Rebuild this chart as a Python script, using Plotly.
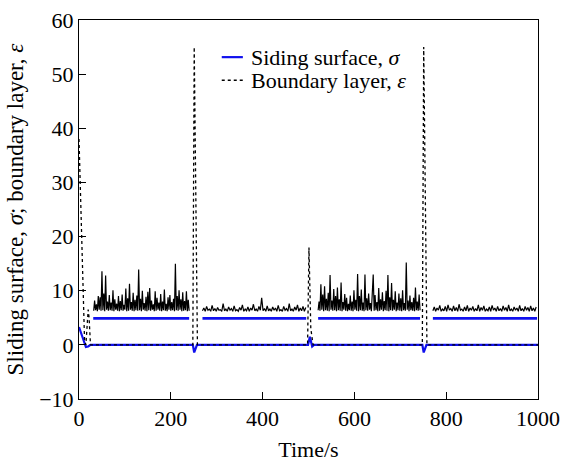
import numpy as np
import plotly.graph_objects as go

# ---- data ----
# sliding surface sigma, main (near-zero) trajectory
sig_t = [0, 6, 12, 15, 20, 25, 248, 251, 257, 499, 503, 508, 512, 748, 751, 757, 1000]
sig_v = [3.3, 1.8, 0, -0.4, -0.3, 0, 0, -1.4, 0, 0, 1.5, -0.3, 0, 0, -1.4, 0, 0]

# sliding surface sigma, upper level segments
sig_band_t = [31, 240, None, 269, 495, None, 521, 743, None, 771, 998]
sig_band_v = [4.9, 4.9, None, 4.9, 4.9, None, 4.9, 4.9, None, 4.9, 4.9]

# boundary layer epsilon, main (near-zero) trajectory with spikes
eps_t = [0, 4, 8, 12, 15, 18, 20, 22, 25, 248, 251, 258, 262, 498, 501, 505, 510, 748, 751, 758, 762, 1000]
eps_v = [38, 25, 12, 1, 0, 5, 6.5, 5, 0, 0, 55, 0, 0, 0, 18, 3, 0, 0, 55, 0, 0, 0]

# boundary layer epsilon, noisy upper-level segments
eps1_start, eps1_step = 32, 2
eps1_v = [6.3, 8.2, 6.4, 7.5, 6.2, 9.0, 6.5, 8.8, 6.3, 13.6,
          6.4, 9.5, 6.2, 12.8, 6.5, 8.0, 6.3, 9.2, 6.4, 7.8,
          6.3, 10.1, 6.2, 8.4, 6.5, 7.6, 6.3, 9.0, 6.2, 8.1,
          6.4, 9.3, 6.3, 7.4, 6.5, 10.4, 6.2, 8.6, 6.3, 11.3,
          6.5, 7.9, 6.3, 9.6, 6.2, 8.3, 6.4, 9.1, 6.3, 13.9,
          6.4, 8.5, 6.2, 10.0, 6.5, 7.7, 6.3, 8.9, 6.2, 9.8,
          6.4, 10.5, 6.3, 8.2, 6.5, 7.5, 6.2, 9.9, 6.3, 8.7,
          6.5, 7.8, 6.3, 9.4, 6.2, 8.0, 6.4, 10.2, 6.3, 7.6,
          6.2, 8.8, 6.5, 9.2, 6.3, 7.9, 6.4, 8.5, 6.2, 15.0,
          6.4, 9.0, 6.3, 10.1, 6.5, 8.4, 6.2, 9.7, 6.3, 8.1,
          6.4, 9.9, 6.2, 8.3, 6.3]

eps2_start, eps2_step = 269, 3
eps2_v = [6.3, 6.8, 6.2, 7.1, 6.4, 6.6, 6.2, 7.3, 6.3, 6.7,
          6.2, 6.9, 6.4, 6.5, 6.2, 7.6, 6.3, 6.6, 6.2, 7.0,
          6.4, 6.7, 6.2, 7.2, 6.3, 6.5, 6.2, 6.9, 6.4, 7.4,
          6.2, 6.6, 6.3, 7.0, 6.2, 6.8, 6.4, 7.5, 6.3, 6.6,
          6.2, 7.1, 6.4, 8.7, 6.3, 6.7, 6.2, 7.2, 6.3, 6.6,
          6.2, 7.0, 6.4, 6.8, 6.2, 7.3, 6.3, 6.5, 6.2, 7.1,
          6.4, 6.7, 6.2, 7.6, 6.3, 6.6, 6.2, 7.0, 6.4, 7.4,
          6.2, 6.8, 6.3, 7.1, 6.2, 6.9]

eps3_start, eps3_step = 521, 2
eps3_v = [6.4, 8.0, 6.3, 11.2, 6.5, 9.3, 6.2, 10.8, 6.4, 8.5,
          6.3, 9.6, 6.2, 12.9, 6.5, 8.2, 6.3, 10.3, 6.4, 9.0,
          6.2, 10.6, 6.4, 8.4, 6.3, 11.5, 6.2, 7.9, 6.5, 9.4,
          6.3, 8.7, 6.2, 7.6, 6.4, 9.1, 6.3, 8.0, 6.2, 10.1,
          6.5, 8.3, 6.3, 13.1, 6.2, 9.0, 6.4, 10.2, 6.3, 7.8,
          6.2, 13.0, 6.4, 8.6, 6.3, 9.5, 6.5, 7.7, 6.2, 8.9,
          13.0, 6.3, 9.2, 6.4, 7.9, 6.2, 10.5, 6.3, 8.4, 6.5,
          9.7, 6.2, 8.1, 6.4, 10.0, 6.3, 12.9, 6.2, 8.8, 6.4,
          11.4, 6.3, 8.3, 6.5, 9.9, 6.2, 7.8, 6.4, 9.5, 6.3,
          8.6, 6.2, 10.1, 6.4, 7.7, 6.3, 15.2, 6.5, 8.2, 6.2,
          9.1, 6.4, 7.9, 6.3, 8.7, 6.2, 10.6, 6.4, 8.0, 6.3,
          9.3, 6.4]

eps4_start, eps4_step = 771, 3
eps4_v = [6.3, 7.0, 6.2, 6.8, 6.4, 7.3, 6.2, 6.6, 6.3, 7.1,
          6.2, 7.4, 6.4, 6.7, 6.2, 7.2, 6.3, 6.9, 6.2, 7.5,
          6.4, 6.6, 6.2, 7.0, 6.3, 7.3, 6.2, 6.8, 6.4, 7.1,
          6.2, 6.7, 6.3, 7.4, 6.2, 6.9, 6.4, 7.2, 6.2, 6.6,
          6.3, 7.0, 6.2, 7.3, 6.4, 6.8, 6.2, 7.1, 6.3, 6.7,
          6.2, 7.2, 6.4, 6.9, 6.2, 7.4, 6.3, 6.6, 6.2, 7.0,
          6.4, 6.8, 6.2, 7.3, 6.3, 6.7, 6.2, 7.1, 6.4, 6.9,
          6.2, 7.2, 6.3, 6.8, 6.2, 7.0]

x_ticks = [0, 200, 400, 600, 800, 1000]
y_ticks = [-10, 0, 10, 20, 30, 40, 50, 60]
legend_labels = ["Siding surface, <i>σ</i>", "Boundary layer, <i>ε</i>"]

FONT = "Liberation Serif"
BLUE = "#1010ee"

fig = go.Figure()

fig.add_trace(go.Scatter(x=sig_t, y=sig_v, mode="lines", name=legend_labels[0], showlegend=False,
                         line=dict(color=BLUE, width=2.2)))
fig.add_trace(go.Scatter(x=sig_band_t, y=sig_band_v, mode="lines", showlegend=False,
                         line=dict(color=BLUE, width=2.6), connectgaps=False))

for start, step, vals in [(eps1_start, eps1_step, eps1_v), (eps2_start, eps2_step, eps2_v),
                          (eps3_start, eps3_step, eps3_v), (eps4_start, eps4_step, eps4_v)]:
    tt = start + step * np.arange(len(vals))
    fig.add_trace(go.Scatter(x=tt, y=vals, mode="lines", showlegend=False,
                             line=dict(color="black", width=1.2)))

fig.add_trace(go.Scatter(x=eps_t, y=eps_v, mode="lines", name=legend_labels[1], showlegend=False,
                         line=dict(color="black", width=1.3, dash="dot")))

# compact legend (samples + real text), placed in paper coordinates
leg_x0, leg_x1, leg_tx = 0.311, 0.357, 0.370
leg_rows = [0.902, 0.841]
leg_styles = [dict(color=BLUE, width=2.2), dict(color="black", width=1.5, dash="dot")]
for ly, lab, st in zip(leg_rows, legend_labels, leg_styles):
    fig.add_shape(type="line", xref="paper", yref="paper", x0=leg_x0, x1=leg_x1, y0=ly, y1=ly, line=st)
    fig.add_annotation(xref="paper", yref="paper", x=leg_tx, y=ly, text=lab, showarrow=False,
                       xanchor="left", yanchor="middle",
                       font=dict(family=FONT, size=22, color="black"))

axis_common = dict(showline=True, linecolor="black", linewidth=1, mirror=True,
                   ticks="inside", ticklen=7, tickcolor="black", showgrid=False,
                   zeroline=False, automargin=False,
                   tickfont=dict(family=FONT, size=22, color="black"))

fig.update_xaxes(range=[0, 1000], tickvals=x_ticks,
                 title=dict(text="Time/s", font=dict(family=FONT, size=22, color="black"), standoff=14),
                 **axis_common)
fig.update_yaxes(range=[-10, 60], tickvals=y_ticks,
                 title=dict(text="Sliding surface, <i>σ</i>; boundary layer, <i>ε</i>",
                            font=dict(family=FONT, size=23, color="black"), standoff=9),
                 **axis_common)

fig.update_layout(
    width=561, height=462,
    margin=dict(l=79, r=23, t=20, b=63),
    paper_bgcolor="white", plot_bgcolor="white",
    font=dict(family=FONT, size=22, color="black"),
    showlegend=False,
)

fig.write_html("out.html")
